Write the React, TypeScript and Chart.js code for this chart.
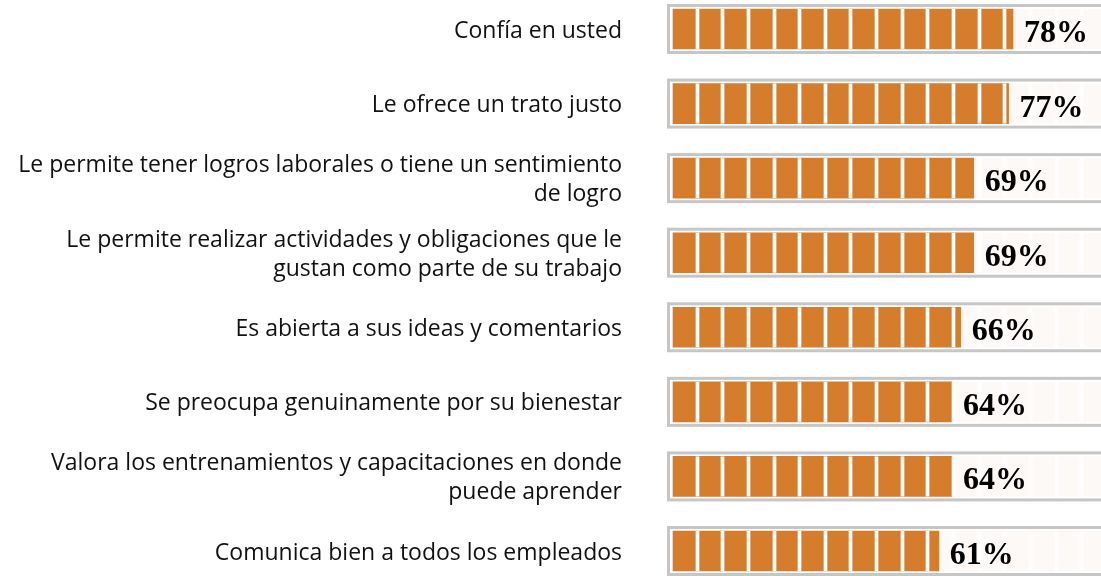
import React, { useEffect, useRef } from "react";
import { Chart, registerables } from "chart.js";

Chart.register(...registerables);

const categories: (string | string[])[] = [
  "Confía en usted",
  "Le ofrece un trato justo",
  ["Le permite tener logros laborales o tiene un sentimiento", "de logro"],
  ["Le permite realizar actividades y obligaciones que le", "gustan como parte de su trabajo"],
  "Es abierta a sus ideas y comentarios",
  "Se preocupa genuinamente por su bienestar",
  ["Valora los entrenamientos y capacitaciones en donde", "puede aprender"],
  "Comunica bien a todos los empleados",
];
const values: number[] = [78, 77, 69, 69, 66, 64, 64, 61];
const valueLabels: string[] = values.map((v) => `${v}%`);
const SEGMENTS = 17;
const FULL = 100;

const ORANGE = "#d57c2d";
const TRACK = "#fdf9f6";
const BORDER = "#c6c6c6";

const segPlugin = {
  id: "segments",
  beforeDatasetsDraw(chart: any) {
    const { ctx } = chart;
    const xs = chart.scales.x;
    const ys = chart.scales.y;
    const x0 = xs.getPixelForValue(0);
    const x1 = xs.getPixelForValue(FULL);
    ctx.save();
    categories.forEach((_, i) => {
      const y = ys.getPixelForValue(i);
      ctx.fillStyle = TRACK;
      ctx.fillRect(x0, y - 20, x1 - x0, 40);
      ctx.strokeStyle = BORDER;
      ctx.lineWidth = 3;
      ctx.strokeRect(x0 - 4.5, y - 23.5, x1 - x0 + 9, 47);
    });
    ctx.restore();
  },
  afterDatasetsDraw(chart: any) {
    const { ctx } = chart;
    const xs = chart.scales.x;
    const ys = chart.scales.y;
    ctx.save();
    categories.forEach((_, i) => {
      const y = ys.getPixelForValue(i);
      for (let k = 1; k <= SEGMENTS; k++) {
        const gx = Math.round(xs.getPixelForValue((k * FULL) / SEGMENTS));
        ctx.fillStyle = "#ffffff";
        ctx.fillRect(gx - 3, y - 20, 3, 40);
        ctx.fillStyle = "rgba(255,255,255,0.35)";
        ctx.fillRect(gx - 4, y - 20, 1, 40);
        ctx.fillRect(gx, y - 20, 1, 40);
      }
      const xe = xs.getPixelForValue(values[i]);
      ctx.fillStyle = "#000000";
      ctx.font = "bold 32px 'Liberation Serif', serif";
      ctx.textAlign = "left";
      ctx.textBaseline = "alphabetic";
      ctx.fillText(valueLabels[i], xe + 11, y + 13);
    });
    ctx.restore();
  },
};

export default function App() {
  const ref = useRef<HTMLCanvasElement | null>(null);
  useEffect(() => {
    document.body.style.margin = "0";
    if (!ref.current) return;
    const chart = new Chart(ref.current, {
      type: "bar",
      data: {
        labels: categories,
        datasets: [
          {
            data: values,
            backgroundColor: ORANGE,
            borderWidth: 0,
            barThickness: 40,
            clip: false as any,
          },
        ],
      },
      options: {
        indexAxis: "y",
        responsive: false,
        animation: false,
        layout: { padding: { top: 29, bottom: 25, left: 0, right: 0 } },
        plugins: {
          legend: { display: false },
          tooltip: { enabled: false },
        },
        scales: {
          x: {
            type: "linear",
            min: 0,
            max: 98.2,
            display: false,
          },
          y: {
            type: "category",
            offset: false,
            grid: { display: false, drawTicks: true, tickLength: 49 },
            border: { display: false },
            ticks: {
              color: "#111111",
              padding: 2,
              labelOffset: 2,
              font: { family: "'Open Sans', sans-serif", size: 23, lineHeight: 1.26 },
            },
            afterFit: (scale: any) => {
              scale.width = 673;
            },
          },
        },
      },
      plugins: [segPlugin],
    });
    return () => chart.destroy();
  }, []);
  return (
    <div style={{ width: 1101, height: 576 }}>
      <canvas ref={ref} width={1101} height={576} />
    </div>
  );
}
